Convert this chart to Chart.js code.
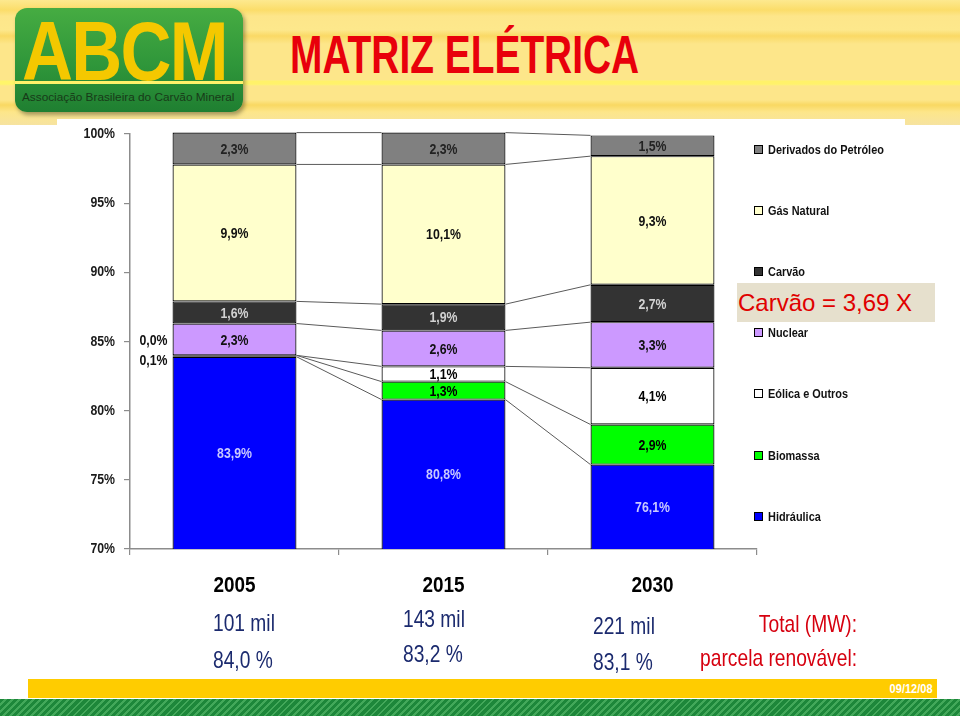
<!DOCTYPE html>
<html lang="pt">
<head>
<meta charset="UTF-8">
<title>Matriz Elétrica</title>
<script src="https://cdn.jsdelivr.net/npm/chart.js@4.4.1/dist/chart.umd.min.js"></script>
<style>
    html, body { margin: 0; padding: 0; background: #fff; }
    body { width: 960px; height: 716px; position: relative; overflow: hidden; font-family: "Liberation Sans", Arial, sans-serif; }
    #header {
        position: absolute; left: 0; top: 0; width: 960px; height: 125px;
        background: linear-gradient(to bottom, #fde98f 0px, #fbdd6a 10px, #fde68a 16px, #fde88c 30px, #fad965 36px, #fde68a 44px,
            #fde68a 80px, #fff56a 81px, #fff56a 84px, #fde68a 86px, #fde68a 100px, #f9d862 105px, #fde68a 112px, #f6e3a0 125px);
    }
    #panel { position: absolute; left: 57px; top: 119px; width: 848px; height: 460px; background: #fff; }
    #logo {
        position: absolute; left: 15px; top: 8px; width: 228px; height: 104px; border-radius: 12px;
        background: linear-gradient(to bottom, #46ac42 0%, #2f963a 55%, #1f7f31 100%);
        box-shadow: 2px 3px 4px rgba(0,0,0,0.35); overflow: hidden;
    }
    #logo .abcm {
        position: absolute; left: 7px; top: 1px; font-size: 84px; line-height: 1; font-weight: bold;
        color: #f4c800; transform: scaleX(0.84); transform-origin: left top; letter-spacing: -2px;
    }
    #logo .line { position: absolute; left: 0; top: 73px; width: 228px; height: 3px; background: #fff26a; }
    #logo .sub { position: absolute; left: 7px; top: 82px; font-size: 11.8px; color: #183a18; white-space: nowrap; }
    #hline { position: absolute; left: 243px; top: 81px; width: 717px; height: 3px; background: #fff26a; }
    #title {
        position: absolute; left: 290px; top: 23px; font-size: 54px; font-weight: bold; color: #e8000b;
        white-space: nowrap; transform: scaleX(0.72); transform-origin: left top;
    }
    #chart { position: absolute; left: 0; top: 0; }
    .leg { position: absolute; left: 754px; font-size: 13px; font-weight: bold; color: #111; white-space: nowrap; height: 16px; line-height: 16px; }
    .leg i { display: inline-block; width: 7px; height: 7px; border: 1px solid #000; margin-right: 5px; vertical-align: 0px; }
    .leg span { display: inline-block; transform: scaleX(0.84); transform-origin: left center; }
    #carvao {
        position: absolute; left: 737px; top: 283px; width: 197px; height: 39px; background: #e6e0cd;
        color: #e00000; font-size: 24px; line-height: 39px; padding-left: 1px; white-space: nowrap;
    }
    .val { position: absolute; font-size: 24px; color: #1b2a6e; white-space: nowrap; transform: scaleX(0.8); transform-origin: left top; }
    .lab { position: absolute; font-size: 24px; color: #d6000f; white-space: nowrap; text-align: right; width: 300px; transform: scaleX(0.8); transform-origin: right top; }
    #datebar { position: absolute; left: 28px; top: 679px; width: 909px; height: 19px; background: #ffcc00; }
    #datebar span { position: absolute; right: 4px; top: 2px; color: #fff; font-weight: bold; font-size: 13px; transform: scaleX(0.85); transform-origin: right top; }
    #greenbar {
        position: absolute; left: 0; top: 699px; width: 960px; height: 17px;
        background: repeating-linear-gradient(135deg, #1d873a 0px, #1d873a 3px, #43a85a 3px, #43a85a 5px);
    }
</style>
</head>
<body>
<div id="header"></div>
<div id="hline"></div>
<div id="logo">
    <div class="abcm">ABCM</div>
    <div class="line"></div>
    <div class="sub">Associação Brasileira do Carvão Mineral</div>
</div>
<div id="title">MATRIZ ELÉTRICA</div>
<div id="panel"></div>
<canvas id="chart" width="960" height="716"></canvas>
<div id="legend"></div>
<div id="carvao">Carvão = 3,69 X</div>
<div id="bottom"></div>
<div id="datebar"><span>09/12/08</span></div>
<div id="greenbar"></div>
<script>
// --- data ---
const years = ['2005', '2015', '2030'];
const sources = ['Hidráulica', 'Biomassa', 'Eólica e Outros', 'Nuclear', 'Carvão', 'Gás Natural', 'Derivados do Petróleo'];
const hidraulica = [83.9, 80.8, 76.1];
const biomassa = [0.1, 1.3, 2.9];
const eolica = [0.0, 1.1, 4.1];
const nuclear = [2.3, 2.6, 3.3];
const carvao = [1.6, 1.9, 2.7];
const gasNatural = [9.9, 10.1, 9.3];
const derivados = [2.3, 2.3, 1.5];
const yTicks = [70, 75, 80, 85, 90, 95, 100];
const totalMW = [101, 143, 221];          // mil MW
const renewShare = [84.0, 83.2, 83.1];    // %

// --- styles ---
const FONT = '"Liberation Sans", Arial, sans-serif';
const SQUEEZE = 0.82; // fake "Arial Narrow"
const fills = ['#0000ff', '#00ff00', '#ffffff', '#cc99ff', '#333333', '#ffffcc', '#808080'];
const labelColors = ['#c8c8ff', '#000', '#000', '#111', '#d2d2d2', '#111', '#222'];
const series = [hidraulica, biomassa, eolica, nuclear, carvao, gasNatural, derivados];

const fmt = v => v.toFixed(1).replace('.', ',') + '%';

function narrowText(ctx, text, x, y, squeeze) {
    const w = ctx.measureText(text).width;
    ctx.fillText(text, x, y, w * (squeeze || SQUEEZE));
}

// lines joining the segment tops from one bar to the next
const seriesLines = {
    id: 'seriesLines',
    afterDatasetsDraw(chart) {
        const ctx = chart.ctx;
        ctx.save();
        ctx.strokeStyle = '#5a5a5a';
        ctx.lineWidth = 1;
        chart.data.datasets.forEach((ds, di) => {
            const meta = chart.getDatasetMeta(di);
            for (let i = 0; i < meta.data.length - 1; i++) {
                const a = meta.data[i].getProps(['x', 'y', 'width'], true);
                const b = meta.data[i + 1].getProps(['x', 'y', 'width'], true);
                ctx.beginPath();
                ctx.moveTo(a.x + a.width / 2, a.y);
                ctx.lineTo(b.x - b.width / 2, b.y);
                ctx.stroke();
            }
        });
        ctx.restore();
    }
};

// value labels inside the segments (tiny ones go to the left of the bar)
const segLabels = {
    id: 'segLabels',
    afterDatasetsDraw(chart) {
        const ctx = chart.ctx;
        const area = chart.chartArea;
        ctx.save();
        ctx.font = 'bold 15px ' + FONT;
        ctx.textBaseline = 'middle';
        const smallCount = years.map(() => 0);
        chart.data.datasets.forEach((ds, di) => {
            const meta = chart.getDatasetMeta(di);
            meta.data.forEach((el, i) => {
                const p = el.getProps(['x', 'y', 'base', 'width'], true);
                const top = Math.max(Math.min(p.y, p.base), area.top);
                const bot = Math.min(Math.max(p.y, p.base), area.bottom);
                const cy = (top + bot) / 2;
                const v = ds.data[i];
                if (v < 0.5) {
                    const k = smallCount[i]++;
                    ctx.fillStyle = '#111';
                    ctx.textAlign = 'right';
                    narrowText(ctx, fmt(v), p.x - p.width / 2 - 5, cy + 5 - 19 * k);
                } else {
                    ctx.fillStyle = labelColors[di];
                    ctx.textAlign = 'center';
                    narrowText(ctx, fmt(v), p.x, cy + 1);
                }
            });
        });
        ctx.restore();
    }
};

// axis labels drawn condensed at the scales' own tick positions
const axisLabels = {
    id: 'axisLabels',
    afterDraw(chart) {
        const ctx = chart.ctx;
        const xs = chart.scales.x, ys = chart.scales.y;
        ctx.save();
        ctx.textBaseline = 'middle';
        ctx.fillStyle = '#1a1a1a';
        ctx.font = 'bold 15px ' + FONT;
        ctx.textAlign = 'right';
        yTicks.forEach(v => narrowText(ctx, v + '%', xs.left - 15, ys.getPixelForValue(v)));
        ctx.fillStyle = '#000';
        ctx.font = 'bold 22px ' + FONT;
        ctx.textAlign = 'center';
        years.forEach((y, i) => narrowText(ctx, y, xs.getPixelForTick(i), ys.bottom + 37, 0.86));
        ctx.restore();
    }
};

new Chart(document.getElementById('chart'), {
    type: 'bar',
    data: {
        labels: years,
        datasets: sources.map((name, si) => ({
            label: name,
            data: series[si],
            backgroundColor: fills[si],
            borderColor: '#000',
            borderWidth: 1.2,
            borderSkipped: false,
            categoryPercentage: 1,
            barPercentage: 0.593,
            clip: { left: false, top: 4, right: false, bottom: 0 }
        }))
    },
    options: {
        responsive: false,
        animation: false,
        events: [],
        layout: { padding: { left: 60, right: 203, top: 134, bottom: 107 } },
        plugins: { legend: { display: false }, tooltip: { enabled: false } },
        scales: {
            x: {
                stacked: true,
                afterFit: s => { s.height = 60; },
                border: { display: true, color: '#8c8c8c', width: 1.5 },
                grid: { drawOnChartArea: false, drawTicks: true, tickLength: 6, color: '#8c8c8c', lineWidth: 1.2 },
                ticks: { color: 'rgba(0,0,0,0)', padding: 17, font: { size: 22, weight: 'bold' } }
            },
            y: {
                stacked: true,
                min: 70,
                max: 100,
                afterFit: s => { s.width = 70; },
                afterBuildTicks: s => { s.ticks = yTicks.map(v => ({ value: v })); },
                border: { display: true, color: '#8c8c8c', width: 1.5 },
                grid: { drawOnChartArea: false, drawTicks: true, tickLength: 6, color: '#8c8c8c', lineWidth: 1.2 },
                ticks: { color: 'rgba(0,0,0,0)', padding: 9, font: { size: 15, weight: 'bold' }, callback: v => v + '%' }
            }
        }
    },
    plugins: [seriesLines, segLabels, axisLabels]
});

// legend, top item = last stacked series
const legend = document.getElementById('legend');
const legendTops = [142, 203, 264, 325, 386, 448, 509];
sources.slice().reverse().forEach((name, k) => {
    const si = sources.length - 1 - k;
    const d = document.createElement('div');
    d.className = 'leg';
    d.style.top = legendTops[k] + 'px';
    d.innerHTML = '<i style="background:' + fills[si] + '"></i><span>' + name + '</span>';
    legend.appendChild(d);
});

// bottom rows: totals and renewable share
const bottom = document.getElementById('bottom');
const colLeft = [213, 403, 593];
const totalTop = [609, 605, 612];
const renewTop = [646, 640, 648];
years.forEach((y, i) => {
    const t = document.createElement('div');
    t.className = 'val';
    t.style.left = colLeft[i] + 'px';
    t.style.top = totalTop[i] + 'px';
    t.textContent = totalMW[i] + ' mil';
    bottom.appendChild(t);
    const r = document.createElement('div');
    r.className = 'val';
    r.style.left = colLeft[i] + 'px';
    r.style.top = renewTop[i] + 'px';
    r.textContent = renewShare[i].toFixed(1).replace('.', ',') + ' %';
    bottom.appendChild(r);
});
[['Total (MW):', 610], ['parcela renovável:', 644]].forEach(([txt, top]) => {
    const l = document.createElement('div');
    l.className = 'lab';
    l.style.left = '557px';
    l.style.top = top + 'px';
    l.textContent = txt;
    bottom.appendChild(l);
});
</script>
</body>
</html>
